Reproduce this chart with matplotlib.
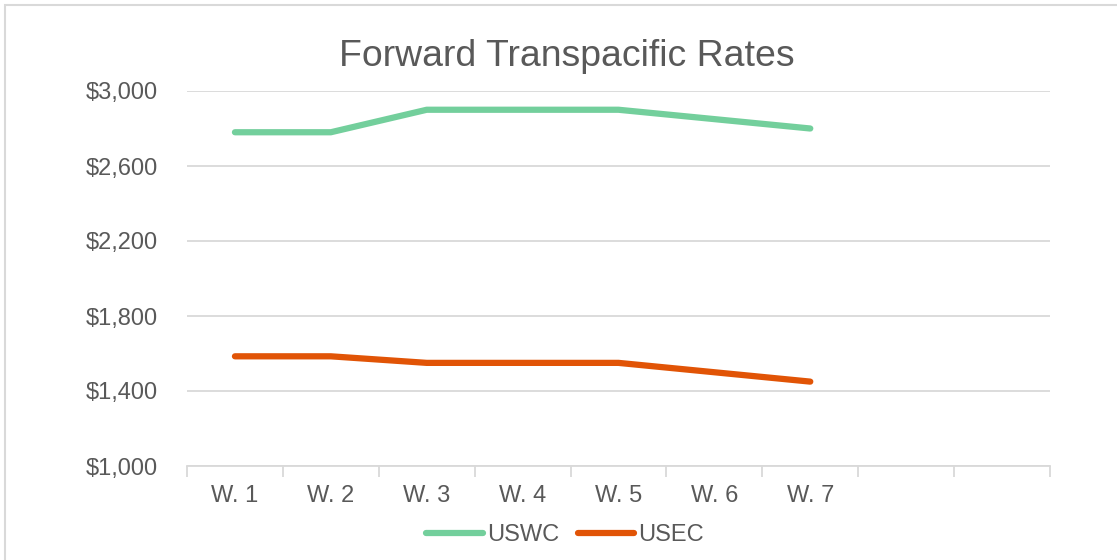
import matplotlib
matplotlib.use("Agg")

import matplotlib.pyplot as plt
import matplotlib.patches as mpatches
from matplotlib.ticker import FuncFormatter, FixedLocator

# Data
weeks = ["W. 1", "W. 2", "W. 3", "W. 4", "W. 5", "W. 6", "W. 7"]
n_slots = 9  # category axis has two empty slots after W. 7
uswc = [2780, 2780, 2900, 2900, 2900, 2850, 2800]
usec = [1585, 1585, 1550, 1550, 1550, 1500, 1450]
y_ticks = [1000, 1400, 1800, 2200, 2600, 3000]

_INK = "#595959"
_GRID = "#d9d9d9"
_GREEN = "#73cf9c"
_ORANGE = "#e15406"

plt.rcParams["font.family"] = ["Liberation Sans", "DejaVu Sans"]

fig = plt.figure(figsize=(11.17, 5.6), dpi=100, facecolor="white")
ax = fig.add_axes([187 / 1117, 1 - 466 / 560, (1050 - 187) / 1117, (466 - 91) / 560])

# outer chart frame (right and bottom fall outside the image)
frame = mpatches.Rectangle((5 / 1117, -0.1), 1.2, 1.1 - 5 / 560,
                           transform=fig.transFigure, fill=False,
                           edgecolor=_GRID, linewidth=1.5, zorder=0)
fig.patches.append(frame)

x = list(range(len(weeks)))
ax.plot(x, uswc, color=_GREEN, linewidth=4.5, solid_capstyle="round",
        solid_joinstyle="round", label="USWC", zorder=3)
ax.plot(x, usec, color=_ORANGE, linewidth=4.5, solid_capstyle="round",
        solid_joinstyle="round", label="USEC", zorder=3)

ax.set_xlim(-0.5, n_slots - 0.5)
ax.set_ylim(y_ticks[0], y_ticks[-1])

ax.set_yticks(y_ticks)
ax.yaxis.set_major_formatter(FuncFormatter(lambda v, p: f"${v:,.0f}"))
ax.grid(axis="y", color=_GRID, linewidth=1.3, zorder=0)

ax.set_xticks(x)
ax.set_xticklabels(weeks)
ax.xaxis.set_minor_locator(FixedLocator([i - 0.5 for i in range(n_slots + 1)]))
ax.tick_params(axis="x", which="major", length=0, pad=13.5, labelsize=17, labelcolor=_INK)
ax.tick_params(axis="x", which="minor", length=8, width=1.3, color=_GRID)
ax.tick_params(axis="y", length=0, pad=21, labelsize=17, labelcolor=_INK)

for side in ("top", "right", "left"):
    ax.spines[side].set_visible(False)
ax.spines["bottom"].set_color(_GRID)
ax.spines["bottom"].set_linewidth(1.3)

fig.text(567 / 1117, 1 - 57 / 560, "Forward Transpacific Rates",
         ha="center", va="center", fontsize=26.9, color=_INK)

fig.legend(loc="center", bbox_to_anchor=(565 / 1117, 1 - 535 / 560), ncol=2,
           frameon=False, fontsize=17, labelcolor=_INK,
           handlelength=2.4, handletextpad=0.15, columnspacing=0.8)

fig.savefig("out.png", dpi=100, facecolor="white")
